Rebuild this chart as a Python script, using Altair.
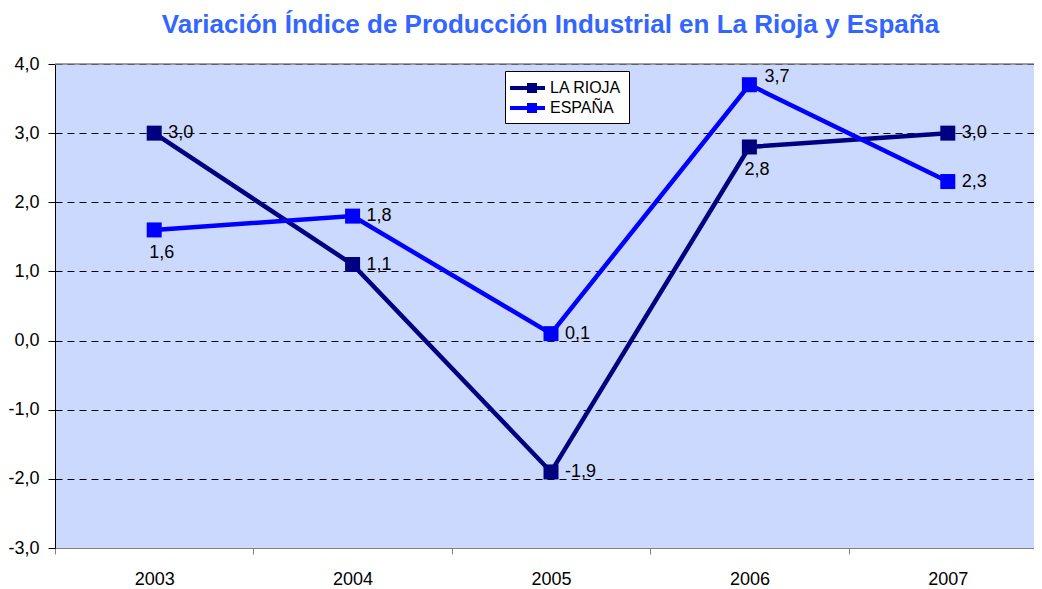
import altair as alt
import pandas as pd

years = ["2003", "2004", "2005", "2006", "2007"]
la_rioja = [3.0, 1.1, -1.9, 2.8, 3.0]
espana = [1.6, 1.8, 0.1, 3.7, 2.3]
series_names = ["LA RIOJA", "ESPAÑA"]
series_colors = ["#000080", "#0000FF"]
y_ticks = [-3, -2, -1, 0, 1, 2, 3, 4]
labels_below = [("ESPAÑA", "2003"), ("LA RIOJA", "2006")]
labels_above = [("ESPAÑA", "2006")]
title_text = "Variación Índice de Producción Industrial en La Rioja y España"

rows = []
for name, vals in zip(series_names, [la_rioja, espana]):
    for i, (yr, v) in enumerate(zip(years, vals)):
        if (name, yr) in labels_below:
            place = "below"
        elif (name, yr) in labels_above:
            place = "above"
        else:
            place = "right"
        rows.append(dict(series=name, year=yr, value=v,
                         label=f"{v:.1f}".replace(".", ","), place=place, order=i))
df = pd.DataFrame(rows)

FONT = "Liberation Sans"

x = alt.X("year:O",
          scale=alt.Scale(type="band", range=[0, 992], paddingInner=0, paddingOuter=0),
          axis=alt.Axis(title=None, labelAngle=0, tickBand="extent",
                        domainColor="#808080", tickColor="#808080", tickSize=6,
                        labelPadding=16, labelFontSize=18, labelFont=FONT,
                        labelColor="black", grid=False))
y = alt.Y("value:Q",
          scale=alt.Scale(domain=[-3, 4], nice=False, zero=False),
          axis=alt.Axis(title=None, values=y_ticks,
                        labelExpr="replace((datum.value < 0 ? '-' : '') + format(abs(datum.value), '.1f'), '.', ',')",
                        grid=True, gridColor="black", gridDash=[7, 5], gridWidth=1,
                        domainColor="black", tickColor="black", tickSize=7,
                        labelPadding=9, labelFontSize=18, labelFont=FONT,
                        labelColor="black"))
color_scale = alt.Scale(domain=series_names, range=series_colors)

legend_path = "M-1.2,-0.2H2.3V0.2H-1.2Z M0.5,-0.5H1.5V0.5H0.5Z"
legend = alt.Legend(title=None, orient="none", legendX=450, legendY=7,
                    symbolType=legend_path, symbolSize=400,
                    symbolStrokeWidth=0, fillColor="white",
                    strokeColor="black", padding=7, labelOffset=18,
                    labelFont=FONT, labelFontSize=16,
                    labelColor="black", rowPadding=2)
color = alt.Color("series:N", scale=color_scale, legend=legend)

base = alt.Chart(df).encode(x=x, y=y)

lines = base.mark_line(strokeWidth=4.5).encode(color=color, order="order:Q")
points = base.mark_square(size=225, opacity=1, filled=True).encode(color=color)

top_rule = alt.Chart(pd.DataFrame({"value": [4]})).mark_rule(
    color="#808080", strokeWidth=1.5).encode(y=alt.Y("value:Q"))

text_common = dict(font=FONT, fontSize=18, color="black", align="left", baseline="middle")
t_right = base.mark_text(dx=14, **text_common).encode(text="label:N").transform_filter(
    alt.datum.place == "right")
t_below = base.mark_text(dx=-5, dy=23, **text_common).encode(text="label:N").transform_filter(
    alt.datum.place == "below")
t_above = base.mark_text(dx=15, dy=-8, **text_common).encode(text="label:N").transform_filter(
    alt.datum.place == "above")

chart = alt.layer(lines, top_rule, points, t_right, t_below, t_above).properties(
    width=979, height=484,
    title=alt.TitleParams(title_text, font=FONT, fontSize=26, fontWeight="bold",
                          color="#3366FF", anchor="middle", offset=17, dx=6),
    autosize=alt.AutoSizeParams(type="none"),
    padding={"left": 47, "top": 56, "right": 0, "bottom": 40},
).configure_view(fill="#CCD9FF", stroke=None)

chart.save("out.html", embed_options={"renderer": "svg", "actions": False})
